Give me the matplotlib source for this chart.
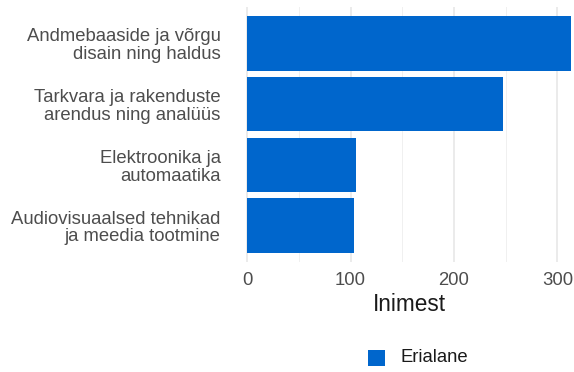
import matplotlib
matplotlib.use("Agg")
import matplotlib.pyplot as plt
from matplotlib.patches import Rectangle

categories = ["Andmebaaside ja võrgu\ndisain ning haldus",
              "Tarkvara ja rakenduste\narendus ning analüüs",
              "Elektroonika ja\nautomaatika",
              "Audiovisuaalsed tehnikad\nja meedia tootmine"]
values = [313, 247, 105, 103]
series_name = "Erialane"
x_label = "Inimest"
x_ticks = [0, 100, 200, 300]
x_minor = [50, 150, 250]

plt.rcParams['font.family'] = ['Liberation Sans', 'DejaVu Sans']

W, H = 574, 372
fig = plt.figure(figsize=(W/100, H/100), dpi=100)
fig.patch.set_facecolor("white")

# panel in pixel coords
pl, pr, pt, pb = 231, 587, 7, 262
ax = fig.add_axes([pl/W, (H-pb)/H, (pr-pl)/W, (pb-pt)/H])
ax.set_facecolor("white")

blue = "#0066CC"
pos = list(range(len(categories), 0, -1))
ax.barh(pos, values, height=0.9, color=blue, zorder=3)

ax.set_xlim(-15.65, 328.65)
ax.set_ylim(0.4, 4.6)
ax.set_xticks(x_ticks)
ax.set_xticks(x_minor, minor=True)
ax.set_yticks(pos)
ax.set_yticklabels(categories, ha="right", linespacing=1.05)
ax.grid(True, axis="x", which="major", color="#e6e6e6", linewidth=1.1, zorder=0)
ax.grid(True, axis="x", which="minor", color="#f0f0f0", linewidth=0.7, zorder=0)
ax.grid(False, axis="y")
for s in ax.spines.values():
    s.set_visible(False)
ax.tick_params(axis="both", which="both", length=0)
ax.tick_params(axis="y", pad=7.5, labelsize=13.3, labelcolor="#4d4d4d")
ax.tick_params(axis="x", pad=7.5, labelsize=13.3, labelcolor="#4d4d4d")
ax.set_xlabel(x_label, fontsize=16.3, color="#1a1a1a", labelpad=2.5)

# legend
fig.patches.append(Rectangle((368/W, (H-366)/H), 17/W, 16/H, transform=fig.transFigure,
                             facecolor=blue, edgecolor="none"))
fig.text(400/W, (H-358)/H, series_name, fontsize=13.3, color="#1a1a1a", va="center", ha="left")

fig.savefig("out.png", dpi=100)
